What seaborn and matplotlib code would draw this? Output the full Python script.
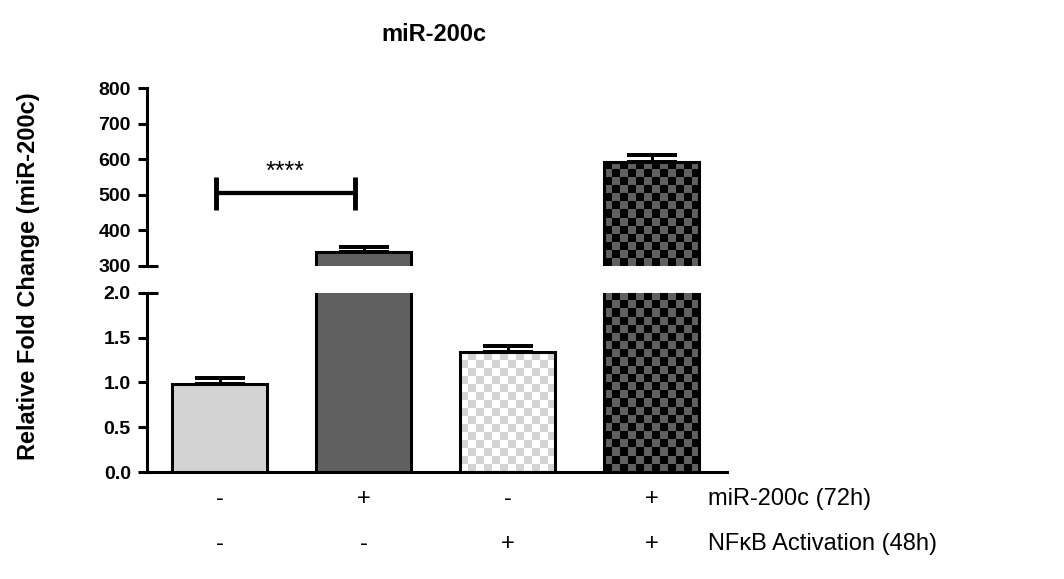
import numpy as np
import pandas as pd
import matplotlib
matplotlib.use("Agg")
import matplotlib.pyplot as plt
import matplotlib.transforms as mtransforms
from matplotlib.colors import ListedColormap
import seaborn as sns

# values (mean, SEM)
conditions = ["ctrl", "miR-200c", "NFkB", "miR-200c+NFkB"]
means = [0.98, 339, 1.34, 593]
sems = [0.07, 14, 0.07, 20]
mir_row = ["-", "+", "-", "+"]
nfkb_row = ["-", "-", "+", "+"]
row_titles = ["miR-200c (72h)", "NF\u03baB Activation (48h)"]
top_ticks = [300, 400, 500, 600, 700, 800]
bottom_ticks = [0.0, 0.5, 1.0, 1.5, 2.0]

base_colors = ["#d3d3d3", "#606060", "#d3d3d3", "#606060"]
checker = [None, None, ("#ffffff", "#d3d3d3"), ("#000000", "#606060")]

df = pd.DataFrame({"cond": conditions, "mean": means, "sem": sems})

sns.set_style("white")
plt.rcParams["font.family"] = ["Liberation Sans", "DejaVu Sans"]
plt.rcParams["text.color"] = "black"
plt.rcParams["ytick.color"] = "black"
plt.rcParams["xtick.color"] = "black"
plt.rcParams["axes.edgecolor"] = "black"

fig = plt.figure(figsize=(10.64, 5.79), dpi=100)
ax_top = fig.add_axes([0.138, 0.5406, 0.545, 0.3074])
ax_bot = fig.add_axes([0.138, 0.1848, 0.545, 0.3092])

LW = 2.2
xlim = (-0.507, 3.52)

for ax, ylim, ticks in [(ax_top, (300, 800), top_ticks), (ax_bot, (0, 2.0), bottom_ticks)]:
    sns.barplot(data=df, x="cond", y="mean", hue="cond", palette=base_colors,
                legend=False, errorbar=None, width=0.66, ax=ax,
                edgecolor="black", linewidth=LW, zorder=3)
    ax.errorbar(range(len(means)), means, yerr=[np.zeros(len(sems)), sems],
                fmt="none", ecolor="black", elinewidth=LW, capsize=18,
                capthick=LW * 1.3, zorder=2)
    ax.set_xlim(*xlim)
    ax.set_ylim(*ylim)
    ax.set_yticks(ticks)
    ax.set_yticklabels([f"{t:.1f}" if ylim[1] < 10 else f"{t:.0f}" for t in ticks],
                       fontsize=14, fontweight="bold", color="black")
    ax.tick_params(axis="y", length=6.5, width=LW, pad=5, left=True, colors="black")
    ax.tick_params(axis="x", length=0)
    ax.set_xlabel("")
    ax.set_ylabel("")
    for s in ["top", "right"]:
        ax.spines[s].set_visible(False)
    ax.spines["left"].set_linewidth(LW)
    ax.spines["bottom"].set_linewidth(LW)

ax_top.spines["bottom"].set_visible(False)
ax_top.set_xticks([])
ax_bot.set_xticks([])

# checkerboard fills drawn inside the bar rectangles
fig.canvas.draw()
for ax in [ax_top, ax_bot]:
    y0lim, y1lim = ax.get_ylim()
    for i, patch in enumerate(ax.patches):
        if checker[i] is None:
            continue
        x0 = patch.get_x()
        x1 = x0 + patch.get_width()
        y0 = max(patch.get_y(), y0lim)
        y1 = min(patch.get_y() + patch.get_height(), y1lim)
        if y1 <= y0:
            continue
        p0 = ax.transData.transform((x0, y0))
        p1 = ax.transData.transform((x1, y1))
        ncol = max(1, int(round(abs(p1[0] - p0[0]) / 8)))
        nrow = max(1, int(round(abs(p1[1] - p0[1]) / 8)))
        grid = np.indices((nrow, ncol)).sum(axis=0) % 2
        ax.imshow(grid, extent=[x0, x1, y0, y1], origin="lower",
                  cmap=ListedColormap(list(checker[i])), interpolation="nearest",
                  aspect="auto", zorder=2.5)
        patch.set_facecolor("none")
    ax.set_xlim(*xlim)
    ax.set_ylim(y0lim, y1lim)

# axis break marks
ax_top.plot([0, 0.019], [0, 0], transform=ax_top.transAxes, color="black",
            lw=LW, clip_on=False, solid_capstyle="butt")
ax_bot.plot([0, 0.019], [1, 1], transform=ax_bot.transAxes, color="black",
            lw=LW, clip_on=False, solid_capstyle="butt")

# significance bracket
bx0, bx1, by = -0.03, 0.94, 504
ax_top.plot([bx0, bx1], [by, by], color="black", lw=LW * 1.4, solid_capstyle="butt")
ax_top.plot([bx0, bx0], [456, 549], color="black", lw=LW * 1.6, solid_capstyle="butt")
ax_top.plot([bx1, bx1], [456, 549], color="black", lw=LW * 1.6, solid_capstyle="butt")
ax_top.text((bx0 + bx1) / 2, 545, "****", ha="center", va="baseline", fontsize=18)

# condition rows beneath the axis
trans = mtransforms.blended_transform_factory(ax_bot.transData, fig.transFigure)
for row, yfig, title in [(mir_row, 0.138, row_titles[0]), (nfkb_row, 0.0605, row_titles[1])]:
    for i, s in enumerate(row):
        ax_bot.text(i, yfig, s, transform=trans, ha="center", va="center", fontsize=17)
    ax_bot.text(3.39, yfig, title, transform=trans, ha="left", va="center", fontsize=17)

fig.text(0.408, 0.941, "miR-200c", ha="center", va="center", fontsize=17, fontweight="bold")
fig.text(0.027, 0.523, "Relative Fold Change (miR-200c)", rotation=90,
         ha="center", va="center", fontsize=17, fontweight="bold")

fig.savefig("out.png", dpi=100)
